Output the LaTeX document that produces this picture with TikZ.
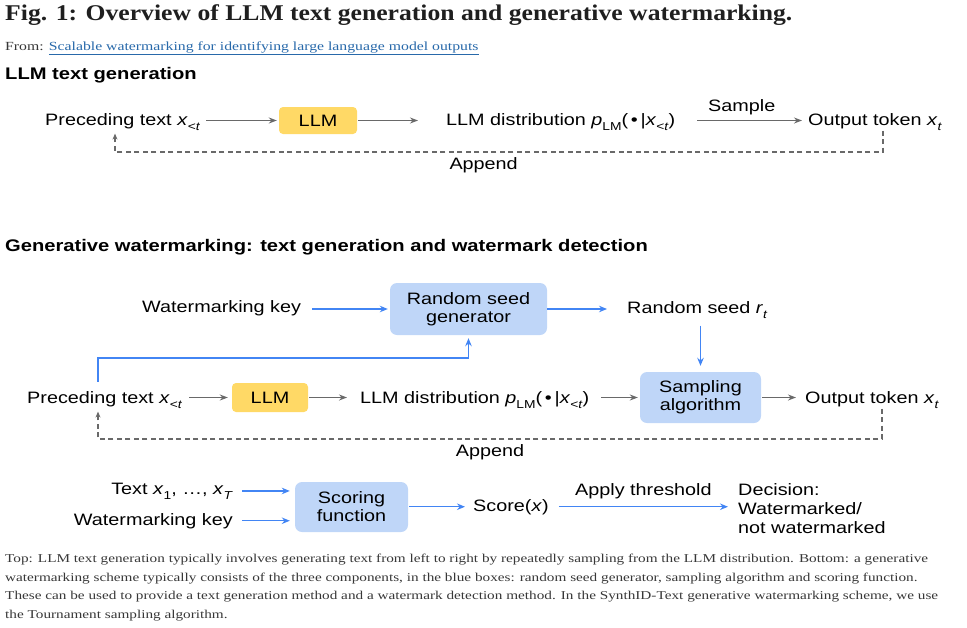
\documentclass[tikz,border=0pt]{standalone}
\usepackage{fontspec}
\setmainfont{Liberation Sans}[FakeStretch=1.2]
\newfontfamily\titlefont{Liberation Serif}[FakeStretch=1.14]
\newfontfamily\capfont{Liberation Serif}[FakeStretch=1.27]
\usetikzlibrary{arrows.meta,positioning}
\definecolor{llmyellow}{RGB}{255,217,102}
\definecolor{partblue}{RGB}{191,214,248}
\definecolor{wmblue}{RGB}{66,133,244}
\definecolor{flowgrey}{RGB}{105,105,105}
\definecolor{captext}{RGB}{55,55,55}
\definecolor{linkblue}{RGB}{40,105,170}
\newcommand\lowidx[1]{\raisebox{-0.32em}{\fontsize{11.5}{12}\selectfont #1}}
\newcommand\xlt{\textit{x}\lowidx{<\textit{t}}}
\newcommand\pdist{LLM distribution \textit{p}\lowidx{LM}(\,\textbullet\,|\xlt)}
\begin{document}
\begin{tikzpicture}[x=1pt,y=-1pt,
  plain/.style={inner sep=0pt,font=\fontsize{16.5}{19}\selectfont},
  llmbox/.style={plain,fill=llmyellow,rounded corners=4pt,minimum width=78pt,minimum height=27pt},
  partbox/.style={plain,fill=partblue,rounded corners=7pt,align=center,font=\fontsize{16.5}{18}\selectfont},
  greyflow/.style={draw=flowgrey,line width=1.2pt,-{Stealth[length=8pt,width=6pt]}},
  blueflow/.style={draw=wmblue,line width=1.3pt,-{Stealth[length=8pt,width=6.5pt]}},
  appendline/.style={draw=flowgrey,line width=1.2pt,dash pattern=on 5pt off 3.5pt,-{Stealth[length=6pt,width=5pt]}},
  heading/.style={inner sep=0pt,anchor=base west,font=\bfseries\fontsize{16.8}{19}\selectfont},
  capline/.style={inner sep=0pt,anchor=base west,text=captext,font=\capfont\fontsize{12}{14}\selectfont}]
\useasboundingbox (0,0) rectangle (967,627);
\node[inner sep=0pt,anchor=base west,text=black!88,font=\titlefont\bfseries\fontsize{22.5}{26}\selectfont] (title) at (5,20) {Fig. 1: Overview of LLM text generation and generative watermarking.};
\node[capline,font=\capfont\fontsize{12.4}{14}\selectfont] (from) at (5,50) {From: \textcolor{linkblue}{\underline{Scalable watermarking for identifying large language model outputs}}};
\node[heading] (head1) at (5,79) {LLM text generation};
\node[plain,anchor=base west] (pre1) at (45,125) {Preceding text \xlt};
\node[llmbox] (llm1) at (318,120.5) {LLM};
\node[plain,anchor=base west] (dist1) at (446,125) {\pdist};
\node[plain,anchor=base west] (out1) at (808,125) {Output token \textit{x}\lowidx{\textit{t}}};
\draw[greyflow,shorten <=6pt,shorten >=2pt] (pre1.east |- llm1.west) -- (llm1.west);
\draw[greyflow,shorten <=1pt,shorten >=28pt] (llm1.east) -- (dist1.west |- llm1.east);
\draw[greyflow,shorten <=22pt,shorten >=6pt] (dist1.east |- llm1.east) -- (out1.west |- llm1.east) node[midway,above=5pt,plain] (sample) {Sample};
\coordinate (ret1r) at (883,152);
\coordinate (ret1l) at (115,152);
\draw[appendline,shorten >=3pt] (out1.south -| ret1r) -- (ret1r) -- (ret1l) node[pos=0.52,below=5pt,plain] (app1) {Append} -- (pre1.south -| ret1l);
\node[heading] (head2) at (5,251) {Generative watermarking: text generation and watermark detection};
\node[plain,anchor=base west] (wmk1) at (142,312) {Watermarking key};
\node[partbox,minimum width=157pt,minimum height=52pt] (rsg) at (468.5,309) {Random seed\\generator};
\node[plain,anchor=base west] (rseed) at (627,313) {Random seed \textit{r}\lowidx{\textit{t}}};
\node[partbox,minimum width=121pt,minimum height=51pt] (samp) at (700.5,397.5) {Sampling\\algorithm};
\node[plain,anchor=base west] (pre2) at (27,403) {Preceding text \xlt};
\node[llmbox,minimum width=76pt,minimum height=29pt] (llm2) at (270,397.5) {LLM};
\node[plain,anchor=base west] (dist2) at (360,403) {\pdist};
\node[plain,anchor=base west] (out2) at (805,403) {Output token \textit{x}\lowidx{\textit{t}}};
\draw[blueflow,shorten <=11pt,shorten >=2pt] (wmk1.east |- rsg.west) -- (rsg.west);
\draw[blueflow,shorten >=20pt] (rsg.east) -- (rseed.west |- rsg.east);
\draw[blueflow,shorten <=7pt,shorten >=6pt] (samp.north |- rseed.south) -- (samp.north);
\coordinate (keybend) at (98,358);
\draw[blueflow,shorten <=9pt,shorten >=3pt] (pre2.north -| keybend) -- (keybend) -| (rsg.south);
\draw[greyflow,shorten <=7pt,shorten >=4pt] (pre2.east |- llm2.west) -- (llm2.west);
\draw[greyflow,shorten <=1pt,shorten >=13pt] (llm2.east) -- (dist2.west |- llm2.east);
\draw[greyflow,shorten <=12pt,shorten >=2pt] (dist2.east |- samp.west) -- (samp.west);
\draw[greyflow,shorten <=1pt,shorten >=9pt] (samp.east) -- (out2.west |- samp.east);
\coordinate (ret2r) at (882,439);
\coordinate (ret2l) at (98,439);
\draw[appendline,shorten >=3pt] (out2.south -| ret2r) -- (ret2r) -- (ret2l) node[midway,below=5pt,plain] (app2) {Append} -- (pre2.south -| ret2l);
\node[plain,anchor=base east] (txtin) at (233,494) {Text \textit{x}\lowidx{1}, \dots, \textit{x}\lowidx{\textit{T}}};
\node[plain,anchor=base east] (wmk2) at (233,525) {Watermarking key};
\node[partbox,minimum width=113pt,minimum height=50pt] (score) at (351.5,507) {Scoring\\function};
\node[plain,anchor=base west] (scorex) at (473,511) {Score(\textit{x})};
\node[plain,anchor=base west,align=left] (decide) at (738,533) {Decision:\\Watermarked/\\not watermarked};
\draw[blueflow,shorten <=9pt,shorten >=5pt] (txtin.east) -- (txtin.east -| score.west);
\draw[blueflow,shorten <=9pt,shorten >=5pt] (wmk2.east) -- (wmk2.east -| score.west);
\draw[blueflow,shorten <=1pt,shorten >=8pt] (score.east |- scorex.west) -- (scorex.west);
\draw[blueflow,shorten <=10pt,shorten >=10pt] (scorex.east) -- (decide.west |- scorex.east) node[midway,above=7.5pt,plain] (thresh) {Apply threshold};
\node[capline] (cap1) at (5,562) {Top: LLM text generation typically involves generating text from left to right by repeatedly sampling from the LLM distribution. Bottom: a generative};
\node[capline] (cap2) at (5,581) {watermarking scheme typically consists of the three components, in the blue boxes: random seed generator, sampling algorithm and scoring function.};
\node[capline] (cap3) at (5,599) {These can be used to provide a text generation method and a watermark detection method. In the SynthID-Text generative watermarking scheme, we use};
\node[capline] (cap4) at (5,618) {the Tournament sampling algorithm.};
\end{tikzpicture}
\end{document}
